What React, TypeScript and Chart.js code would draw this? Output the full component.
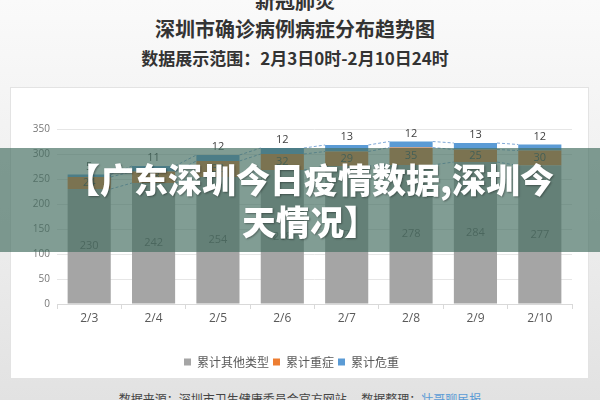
import React, { useEffect, useRef } from "react";
import { Chart, registerables } from "chart.js";

Chart.register(...registerables);

const categories = ["2/3", "2/4", "2/5", "2/6", "2/7", "2/8", "2/9", "2/10"];
const otherValues = [230, 242, 254, 268, 276, 278, 284, 277];
const severeValues = [24, 23, 32, 32, 29, 35, 25, 30];
const criticalValues = [5, 11, 12, 12, 13, 12, 13, 12];
const seriesNames = ["累计其他类型", "累计重症", "累计危重"];
const seriesColors = ["#a5a5a5", "#ed7d31", "#5b9bd5"];
const yTicks = [0, 50, 100, 150, 200, 250, 300, 350];

const seriesLinesPlugin = {
  id: "seriesLines",
  afterDatasetsDraw(chart: any) {
    const ctx = chart.ctx;
    ctx.save();
    ctx.setLineDash([3, 2]);
    ctx.strokeStyle = "#7fa8d6";
    ctx.lineWidth = 1;
    chart.data.datasets.forEach((_ds: any, di: number) => {
      const meta = chart.getDatasetMeta(di);
      for (let i = 0; i < meta.data.length - 1; i++) {
        const a = meta.data[i].getProps(["x", "y", "width"], true);
        const b = meta.data[i + 1].getProps(["x", "y", "width"], true);
        ctx.beginPath();
        ctx.moveTo(a.x + a.width / 2, a.y);
        ctx.lineTo(b.x - b.width / 2, b.y);
        ctx.stroke();
      }
    });
    ctx.restore();
  },
};

const dataLabelsPlugin = {
  id: "dataLabels",
  afterDatasetsDraw(chart: any) {
    const ctx = chart.ctx;
    ctx.save();
    ctx.font = "11px 'Open Sans', 'Noto Sans CJK SC', sans-serif";
    ctx.textAlign = "center";
    ctx.textBaseline = "middle";
    chart.data.datasets.forEach((ds: any, di: number) => {
      const meta = chart.getDatasetMeta(di);
      meta.data.forEach((el: any, i: number) => {
        const p = el.getProps(["x", "y", "base"], true);
        const v = ds.data[i];
        if (di === 2) {
          ctx.fillStyle = "#404040";
          ctx.fillText(String(v), p.x, p.y - 8);
        } else {
          ctx.fillStyle = di === 0 ? "#595959" : "#404040";
          ctx.fillText(String(v), p.x, (p.y + p.base) / 2);
        }
      });
    });
    ctx.restore();
  },
};

function ChartCanvas() {
  const ref = useRef<HTMLCanvasElement | null>(null);
  useEffect(() => {
    if (!ref.current) return;
    const chart = new Chart(ref.current, {
      type: "bar",
      data: {
        labels: categories,
        datasets: [
          { label: seriesNames[0], data: otherValues, backgroundColor: seriesColors[0] },
          { label: seriesNames[1], data: severeValues, backgroundColor: seriesColors[1] },
          { label: seriesNames[2], data: criticalValues, backgroundColor: seriesColors[2] },
        ],
      },
      options: {
        responsive: false,
        animation: false,
        devicePixelRatio: 1,
        layout: { padding: { top: 41, left: 0, right: 16, bottom: 0 } },
        datasets: { bar: { barPercentage: 0.67, categoryPercentage: 1 } },
        font: { family: "'Open Sans', 'Noto Sans CJK SC', sans-serif" },
        plugins: {
          tooltip: { enabled: false },
          legend: {
            position: "bottom",
            labels: {
              usePointStyle: true,
              pointStyle: "rect",
              boxWidth: 7,
              boxHeight: 7,
              padding: 4,
              color: "#595959",
              font: { size: 12, family: "'Noto Sans CJK SC', sans-serif" },
            },
          },
        },
        scales: {
          x: {
            stacked: true,
            afterFit: (s: any) => { s.height = 48; },
            grid: { display: true, drawOnChartArea: false, drawTicks: true, tickLength: 5, color: "#d9d9d9" },
            border: { color: "#d9d9d9" },
            ticks: { color: "#595959", font: { size: 12 }, padding: 2 },
          },
          y: {
            stacked: true,
            min: 0,
            max: 350,
            afterFit: (s: any) => { s.width = 46; },
            afterBuildTicks: (s: any) => { s.ticks = yTicks.map((v) => ({ value: v })); },
            grid: { color: "#e6e6e6", drawTicks: false },
            border: { display: false },
            ticks: { color: "#777777", font: { size: 10 }, padding: 7 },
          },
        },
      },
      plugins: [seriesLinesPlugin, dataLabelsPlugin],
    });
    return () => chart.destroy();
  }, []);
  return <canvas ref={ref} width={577} height={290} style={{ width: 577, height: 290, display: "block" }} />;
}

export default function App() {
  const cjk = "'Noto Sans CJK SC', sans-serif";
  return (
    <div
      style={{
        position: "fixed",
        left: 0,
        top: 0,
        width: 600,
        height: 400,
        overflow: "hidden",
        background: "linear-gradient(#fafafa 0%, #f1f1f1 40%, #e2e2e2 100%)",
        fontFamily: cjk,
      }}
    >
      <div style={{ position: "absolute", top: -11, left: 0, width: 590, textAlign: "center", fontSize: 20, fontWeight: 700, color: "#333", lineHeight: "24px" }}>
        新冠肺炎
      </div>
      <div style={{ position: "absolute", top: 17, left: 0, width: 590, textAlign: "center", fontSize: 20, fontWeight: 700, color: "#333", lineHeight: "24px" }}>
        深圳市确诊病例病症分布趋势图
      </div>
      <div style={{ position: "absolute", top: 47, left: 0, width: 590, textAlign: "center", fontSize: 17, fontWeight: 700, color: "#333", lineHeight: "22px" }}>
        数据展示范围：2月3日0时-2月10日24时
      </div>
      <div
        style={{
          position: "absolute",
          left: 11,
          top: 88,
          width: 577,
          height: 290,
          background: "#ffffff",
          boxShadow: "0 0 0 1px #e3e3e3",
        }}
      >
        <ChartCanvas />
      </div>
      <div style={{ position: "absolute", top: 391, left: 0, width: 600, textAlign: "center", fontSize: 12, color: "#444", lineHeight: "16px" }}>
        数据来源：深圳市卫生健康委员会官方网站　 数据整理：<span style={{ color: "#5b9bd5" }}>壮哥聊民报</span>
      </div>
      <div
        style={{
          position: "absolute",
          left: 0,
          top: 148,
          width: 600,
          height: 104,
          background: "rgba(70,110,98,0.68)",
        }}
      />
      <div
        style={{
          position: "absolute",
          left: 10,
          top: 158,
          width: 600,
          textAlign: "center",
          fontSize: 34,
          fontWeight: 900,
          color: "#ffffff",
          lineHeight: "42px",
          textShadow: "1px 1px 2px rgba(0,0,0,0.35)",
          fontFamily: cjk,
        }}
      >
        <div>【广东深圳今日疫情数据,深圳今</div>
        <div>天情况】</div>
      </div>
    </div>
  );
}
